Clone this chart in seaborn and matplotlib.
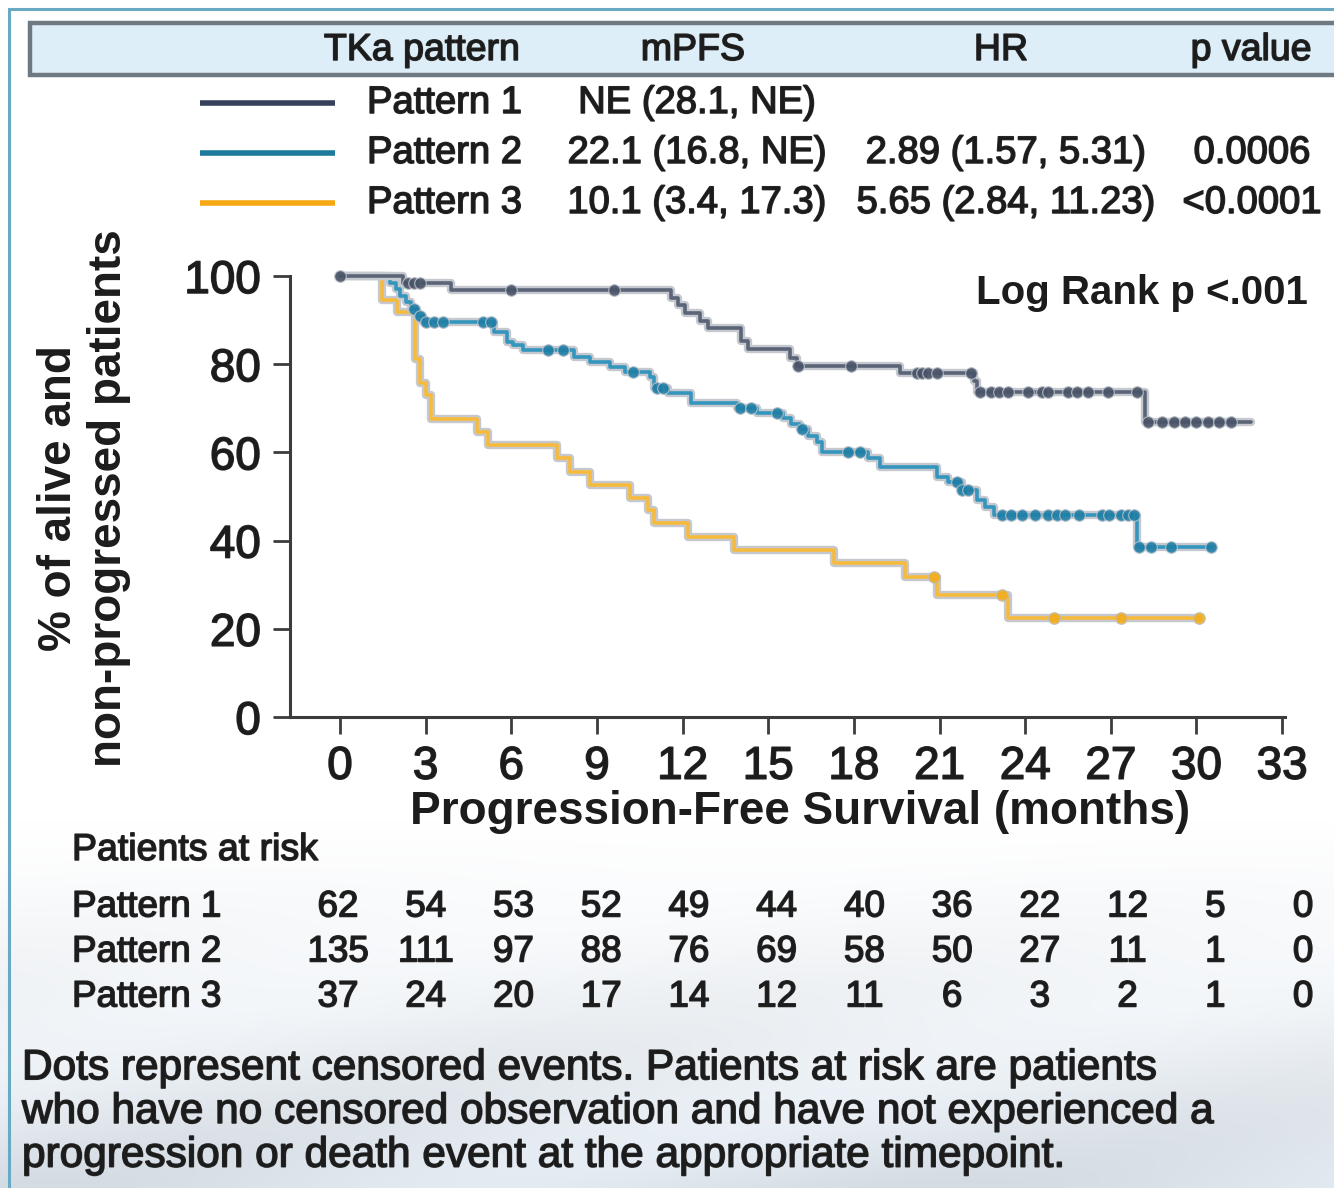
import numpy as np
import pandas as pd
import matplotlib
matplotlib.use("Agg")
import matplotlib.pyplot as plt
import matplotlib.patheffects as pe
from matplotlib.patches import Rectangle
from matplotlib.lines import Line2D
import seaborn as sns

# ---------------- data ----------------
patterns = ["Pattern 1", "Pattern 2", "Pattern 3"]

p1_times = [2.2, 3.9, 11.6, 11.85, 12.1, 12.6, 12.9, 14.05, 14.3, 15.75, 16.0, 19.6, 22.2, 22.3, 28.2]
p1_surv = [98.4, 96.8, 95.1, 93.4, 91.7, 89.9, 88.1, 85.3, 83.4, 81.5, 79.7, 78.1, 76.2, 73.6, 67.0]
p1_end = 31.9
p1_cens = [0, 2.4, 2.6, 2.8, 6.0, 9.6, 16.05, 17.9, 20.2, 20.4, 20.6, 20.9, 22.1, 22.4, 22.8, 23.1,
           23.4, 24.1, 24.6, 24.8, 25.5, 25.8, 26.2, 26.9, 27.9, 28.3, 28.8, 29.2, 29.6, 30.0, 30.4,
           30.8, 31.2]

p2_times = [1.75, 1.95, 2.1, 2.3, 2.5, 2.7, 2.9, 5.4, 5.85, 6.05, 6.4, 8.2, 8.75, 9.45, 10.0, 10.85,
            11.0, 11.5, 12.3, 13.9, 14.6, 15.5, 15.8, 16.1, 16.4, 16.7, 16.9, 18.5, 18.9, 20.9, 21.3,
            21.8, 22.3, 22.6, 22.9, 27.9]
p2_surv = [98.5, 97.0, 95.5, 94.0, 92.5, 91.0, 89.6, 87.3, 85.0, 84.3, 83.2, 81.6, 80.5, 79.4, 78.2,
           77.1, 74.6, 73.4, 71.2, 70.1, 69.0, 67.8, 66.5, 65.2, 63.8, 62.4, 60.0, 58.7, 56.6, 54.5,
           53.3, 51.5, 49.2, 47.6, 45.8, 38.6]
p2_end = 30.55
p2_cens = [2.6, 2.8, 3.0, 3.3, 3.6, 5.0, 5.3, 7.3, 7.8, 10.25, 11.1, 11.3, 14.0, 14.4, 15.3, 16.2,
           17.8, 18.2, 21.6, 21.8, 22.0, 23.2, 23.5, 23.9, 24.35, 24.8, 25.1, 25.4, 25.9, 26.7, 26.95,
           27.35, 27.6, 27.8, 28.0, 28.4, 29.1, 30.5]

p3_times = [1.47, 2.0, 2.63, 2.8, 3.0, 3.2, 4.8, 5.2, 7.6, 8.05, 8.75, 10.15, 10.8, 11.0, 12.2, 13.8,
            17.3, 19.8, 20.9, 23.4]
p3_surv = [94.6, 91.9, 81.1, 75.7, 73.0, 67.6, 64.6, 61.7, 58.7, 55.6, 52.6, 49.7, 47.0, 44.0, 40.9,
           37.9, 34.9, 31.8, 27.7, 22.4]
p3_end = 30.1
p3_cens = [20.8, 23.2, 25.0, 27.35, 30.1]

mpfs = ["NE (28.1, NE)", "22.1 (16.8, NE)", "10.1 (3.4, 17.3)"]
hr = ["", "2.89 (1.57, 5.31)", "5.65 (2.84, 11.23)"]
pval = ["", "0.0006", "<0.0001"]
header = ["TKa pattern", "mPFS", "HR", "p value"]

x_ticks = [0, 3, 6, 9, 12, 15, 18, 21, 24, 27, 30, 33]
y_ticks = [0, 20, 40, 60, 80, 100]

risk_p1 = [62, 54, 53, 52, 49, 44, 40, 36, 22, 12, 5, 0]
risk_p2 = [135, 111, 97, 88, 76, 69, 58, 50, 27, 11, 1, 0]
risk_p3 = [37, 24, 20, 17, 14, 12, 11, 6, 3, 2, 1, 0]

footnote = ("Dots represent censored events. Patients at risk are patients\n"
            "who have no censored observation and have not experienced a\n"
            "progression or death event at the appropriate timepoint.")

# ---------------- style ----------------
curve_colors = {"Pattern 1": "#5b6577", "Pattern 2": "#3496bd", "Pattern 3": "#f6bb3c"}
dot_colors = {"Pattern 1": "#4a5468", "Pattern 2": "#1f7ea6", "Pattern 3": "#f3ad1e"}
legend_colors = ["#37425a", "#1d7a9c", "#f6a814"]

sns.set_theme(style="white")
plt.rcParams["font.family"] = ["Liberation Sans", "DejaVu Sans"]
TXT = "#1c1c1c"
heavy = [pe.withStroke(linewidth=1.1, foreground="#2a2a2a")]

W, H = 1334, 1188
fig = plt.figure(figsize=(W / 100, H / 100), dpi=100)
fig.patch.set_facecolor("white")


def fx(px):
    return px / W


def fy(py):
    return 1 - py / H


# background gradient at bottom
grad = np.ones((H, W, 4))
rows = np.arange(H)
t = np.clip((rows - 820) / (H - 820), 0, 1) ** 1.2
base = np.array([0.86, 0.89, 0.92])
for c in range(3):
    grad[:, :, c] = 1 - (1 - base[c]) * t[:, None]
cols = np.linspace(0, 1, W)
swirl = 0.03 * np.sin(cols[None, :] * 9 + rows[:, None] / 40.0) * t[:, None]
grad[:, :, :3] = np.clip(grad[:, :, :3] + swirl[:, :, None], 0, 1)
grad[:, :, 3] = 1
fig.figimage(grad, xo=0, yo=0, zorder=-10, origin="upper")

# outer frame
fig.patches.append(Rectangle((fx(9), fy(H + 20)), fx(W), fy(9) - fy(H + 20), transform=fig.transFigure,
                             fill=False, edgecolor="#6aa9c4", linewidth=2.2, zorder=1))
# header band
fig.patches.append(Rectangle((fx(30), fy(75)), fx(W - 30 + 10), fy(23) - fy(75), transform=fig.transFigure,
                             facecolor="#ddeef8", edgecolor="#6f7982", linewidth=3.2, zorder=2))
header_x = [422, 693, 1001, 1251]
for txt, xx in zip(header, header_x):
    fig.text(fx(xx), fy(50), txt, ha="center", va="center", fontsize=27, color=TXT, zorder=3,
             path_effects=heavy)

# legend-table rows
row_y = [103, 153, 203]
for i, name in enumerate(patterns):
    fig.lines.append(Line2D([fx(200), fx(335)], [fy(row_y[i]), fy(row_y[i])], transform=fig.transFigure,
                            color=legend_colors[i], linewidth=4.0, solid_capstyle="butt"))
    fig.text(fx(367), fy(row_y[i]), name, ha="left", va="center", fontsize=27.5, color=TXT,
             path_effects=heavy)
    fig.text(fx(697), fy(row_y[i]), mpfs[i], ha="center", va="center", fontsize=27.5, color=TXT,
             path_effects=heavy)
    if hr[i]:
        fig.text(fx(1006), fy(row_y[i]), hr[i], ha="center", va="center", fontsize=27.5, color=TXT,
                 path_effects=heavy)
    if pval[i]:
        fig.text(fx(1252), fy(row_y[i]), pval[i], ha="center", va="center", fontsize=27.5, color=TXT,
                 path_effects=heavy)

# ---------------- KM plot ----------------
ax = fig.add_axes([fx(290), fy(717), fx(1285) - fx(290), fy(276) - fy(717)])
ax.set_facecolor("none")

curves = [(p1_times, p1_surv, p1_end, p1_cens),
          (p2_times, p2_surv, p2_end, p2_cens),
          (p3_times, p3_surv, p3_end, p3_cens)]

frames, cens_frames = [], []
for name, (tt, ss, end, cens) in zip(patterns, curves):
    x = np.array([0.0] + list(tt) + [end])
    y = np.array([100.0] + list(ss) + [ss[-1]])
    frames.append(pd.DataFrame({"time": x, "surv": y, "pattern": name}))
    ct = np.array(cens, dtype=float)
    idx = np.searchsorted(np.array(tt), ct, side="right")
    vals = np.array([100.0] + list(ss))[idx]
    cens_frames.append(pd.DataFrame({"time": ct, "surv": vals, "pattern": name}))
df = pd.concat(frames, ignore_index=True)
cdf = pd.concat(cens_frames, ignore_index=True)

halo = [pe.Stroke(linewidth=6, foreground="#c5c9cf"), pe.Normal()]
for name in patterns[::-1]:
    sub = df[df.pattern == name]
    sns.lineplot(data=sub, x="time", y="surv", ax=ax, color=curve_colors[name], linewidth=2.6,
                 drawstyle="steps-post", estimator=None, sort=False, legend=False,
                 path_effects=halo, clip_on=False, zorder=3)
for name in patterns[::-1]:
    sub = cdf[cdf.pattern == name]
    sns.scatterplot(data=sub, x="time", y="surv", ax=ax, color=dot_colors[name], s=70,
                    edgecolor="#b9c0c8", linewidth=0.8, legend=False, clip_on=False, zorder=4,
                    alpha=0.9)

ax.set_xlim(-1.75, 33.1)
ax.set_ylim(0, 100)
ax.set_xticks(x_ticks)
ax.set_yticks(y_ticks)
ax.set_xticklabels([str(v) for v in x_ticks], fontsize=33, color=TXT)
ax.set_yticklabels([str(v) for v in y_ticks], fontsize=33, color=TXT)
for lab in ax.get_xticklabels() + ax.get_yticklabels():
    lab.set_path_effects(heavy)
ax.set_xlabel("")
ax.set_ylabel("")
for side in ["top", "right"]:
    ax.spines[side].set_visible(False)
for side in ["left", "bottom"]:
    ax.spines[side].set_color("#3c3c3c")
    ax.spines[side].set_linewidth(2.2)
ax.tick_params(axis="both", which="major", length=12, width=2.0, color="#3c3c3c", direction="out",
               left=True, bottom=True)
ax.tick_params(axis="y", pad=9)
ax.tick_params(axis="x", pad=8)
ax.grid(False)

fig.text(fx(1308), fy(293), "Log Rank p <.001", ha="right", va="center",
         fontsize=29, fontweight="bold", color=TXT)

fig.text(fx(800), fy(812), "Progression-Free Survival (months)", ha="center", va="center",
         fontsize=33, fontweight="bold", color=TXT)
fig.text(fx(84), fy(498), "% of alive and\nnon-progressed patients", ha="center", va="center",
         rotation=90, fontsize=33, fontweight="bold", color=TXT, linespacing=1.15)

# ---------------- risk table ----------------
fig.text(fx(72), fy(850), "Patients at risk", ha="left", va="center", fontsize=27, color=TXT,
         path_effects=heavy)
risk_rows = [risk_p1, risk_p2, risk_p3]
risk_y = [907, 952, 997]
col_x = np.linspace(338, 1303, len(x_ticks))
for i, name in enumerate(patterns):
    fig.text(fx(72), fy(risk_y[i]), name, ha="left", va="center", fontsize=26.5, color=TXT,
             path_effects=heavy)
    for xx, v in zip(col_x, risk_rows[i]):
        fig.text(fx(xx), fy(risk_y[i]), str(v), ha="center", va="center", fontsize=26.5, color=TXT,
                 path_effects=heavy)

fig.text(fx(22), fy(1112), footnote, ha="left", va="center", fontsize=30.5, color=TXT, linespacing=1.12,
         path_effects=heavy)

fig.savefig("out.png", dpi=100)
